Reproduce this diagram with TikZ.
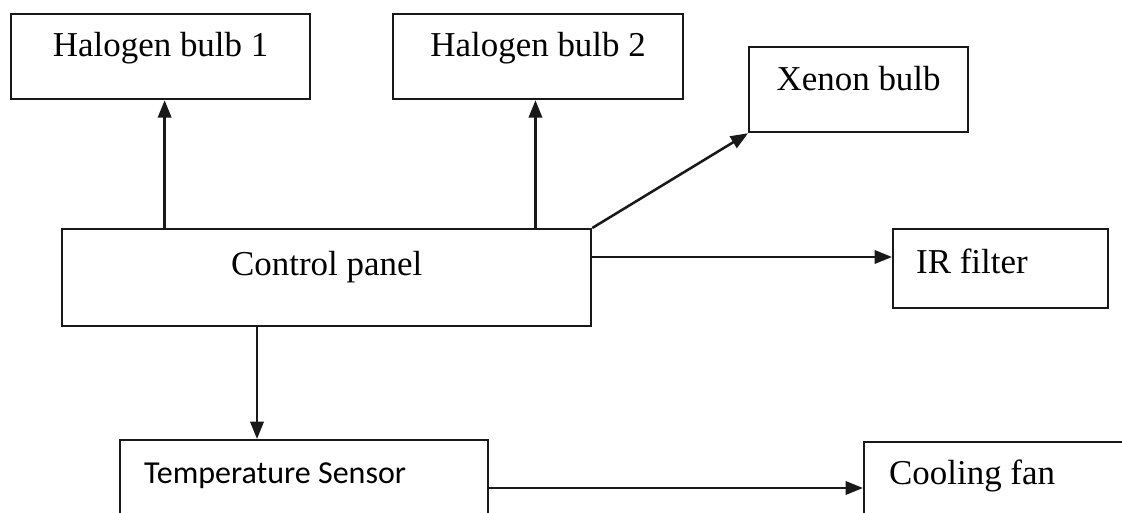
\documentclass[tikz,border=0pt]{standalone}
\usepackage{fontspec}
\setmainfont{Liberation Serif}
\newfontfamily\sensorfont{Carlito}
\usetikzlibrary{arrows.meta}

\tikzset{every picture/.style={line width=0.75pt}}
\tikzset{
  box/.style={draw=black!90, line width=1.7pt, inner ysep=0pt, anchor=north west,
    text=black, font=\fontsize{26.2}{30}\selectfont},
  arr/.style={draw=black!90, line width=1.9pt, -{Triangle[length=13pt,width=10pt]}},
}

\begin{document}
\begin{tikzpicture}[x=0.75pt,y=0.75pt,yscale=-1,xscale=1]
    \useasboundingbox (0,0) rectangle (1122,513);
    \clip (0,0) rectangle (1122,513);

    %Lamps
    \node [box, minimum width=224.25pt, text height=31.5pt, text depth=32.25pt] (hal1) at (10,13) {Halogen bulb 1};
    \node [box, minimum width=217.5pt, text height=31.5pt, text depth=32.25pt] (hal2) at (392,13) {Halogen bulb 2};
    \node [box, minimum width=164.25pt, text height=32.25pt, text depth=31.5pt] (xenon) at (748,46) {Xenon bulb};
    %Control panel and filter
    \node [box, minimum width=396.75pt, text height=34.5pt, text depth=38.25pt] (panel) at (61,228) {Control panel};
    \node [box, align=flush left, inner xsep=17.25pt, text width=126.75pt, text height=33pt, text depth=26.25pt] (ir) at (892,228) {IR filter};
    %Cooling
    \node [box, align=flush left, inner xsep=18pt, text width=240pt, text height=32.25pt, text depth=58.5pt,
      font=\sensorfont\fontsize{24}{28}\selectfont] (sensor) at (119,439) {Temperature Sensor};
    \node [box, align=flush left, inner xsep=18.75pt, text width=185.25pt, text height=31.5pt, text depth=58.5pt] (fan) at (863,441) {Cooling fan};

    %Arrows
    \draw [arr] ([xshift=3pt]hal1.south |- panel.north) -- ([xshift=3pt]hal1.south);
    \draw [arr] ([xshift=-2pt]hal2.south |- panel.north) -- ([xshift=-2pt]hal2.south);
    \draw [arr] (panel.north east) -- (xenon.south west);
    \draw [arr] ([yshift=21.75pt]panel.north east) -- ([yshift=21.75pt]panel.north east -| ir.west);
    \draw [arr] ([xshift=147pt]panel.south west) -- ([xshift=147pt]panel.south west |- sensor.north);
    \draw [arr] ([yshift=36.75pt]sensor.north east) -- ([yshift=36.75pt]sensor.north east -| fan.west);

\end{tikzpicture}
\end{document}
